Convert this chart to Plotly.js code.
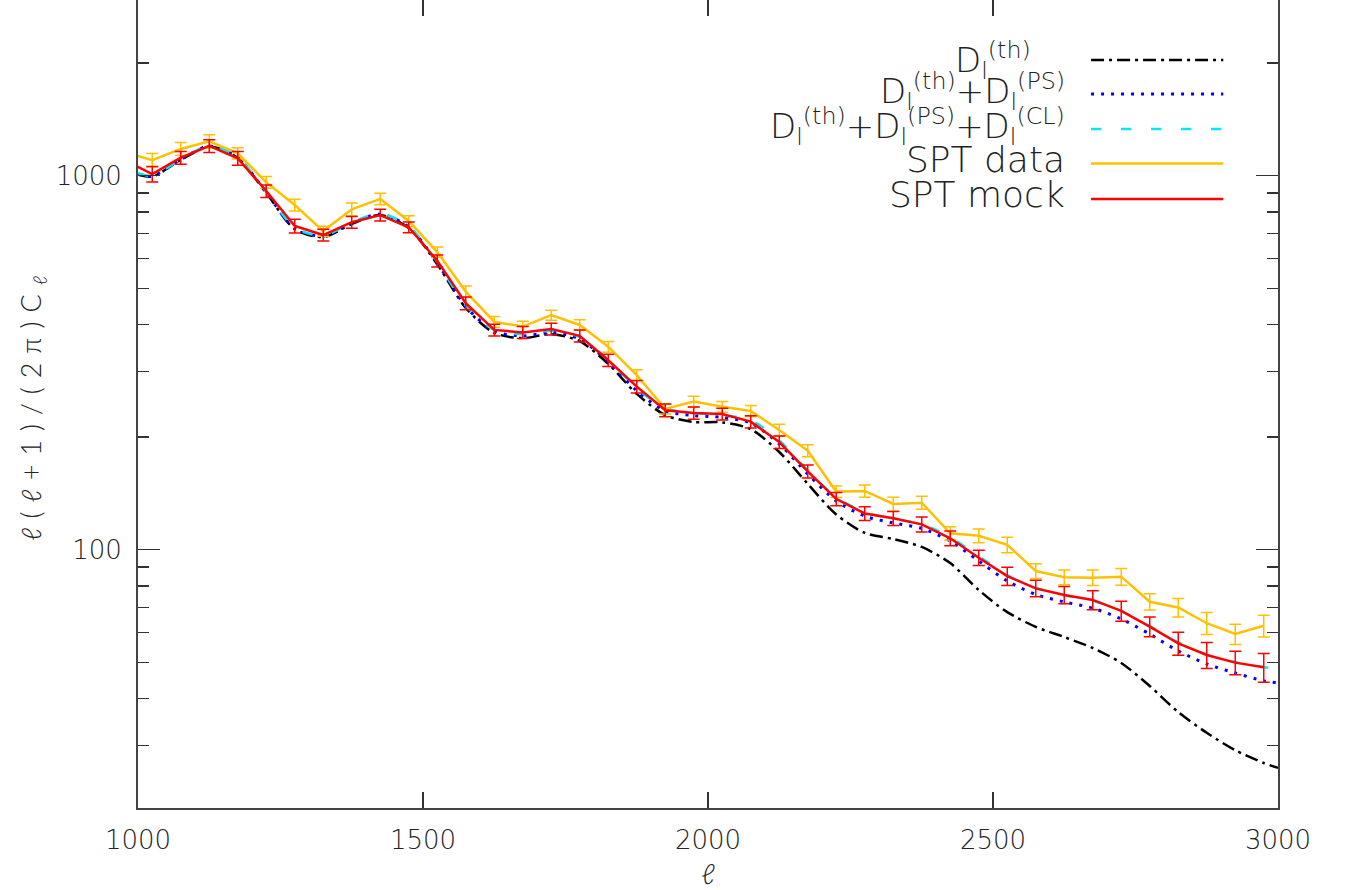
<!DOCTYPE html>
<html>
<head>
<meta charset="utf-8">
<script src="https://cdn.plot.ly/plotly-3.0.1.min.js"></script>
<style>
html,body{margin:0;padding:0;background:#fff;}
#chart{width:1346px;height:890px;}
.ytitle{letter-spacing:9px;}
</style>
</head>
<body>
<div id="chart"></div>
<script>
// Multipoles of the SPT band powers (bin centres; 975 point only sets the line at the left edge)
var binEll = [975,1025,1075,1125,1175,1225,1275,1325,1375,1425,1475,1525,1575,1625,1675,1725,1775,1825,1875,1925,1975,
              2025,2075,2125,2175,2225,2275,2325,2375,2425,2475,2525,2575,2625,2675,2725,2775,2825,2875,2925,2975];
var sptData = [1157,1101,1179,1236,1148,960,835,711,813,867,757,625,490,407,395,424,399,349,293,238,249,
               241,235,209,184,143,143.6,132.5,133.6,110.6,109,103,87.7,84.4,84.2,84.7,72.6,70.1,63.6,59.5,62.6];
var sptDataErr = [0,46,47,50,40,35,30,22,32,31,25,20,17,13.5,13,13,13,11.5,10,7.4,8.3,
                  8,8,7.6,6.7,5.1,5.4,5.7,5.3,4.5,4.6,4.9,4.0,3.8,4.0,4.4,3.6,4.0,4.3,3.7,4.2];
var sptMock = [1105,1010,1117,1201,1113,910,734,694,751,785,728,592,456,387,381,389,373,321,273,236,232,
               230.6,220,194,162,136.7,125,121.3,116.9,107.3,95.2,85.0,78.8,75.7,73.4,68.6,62.3,56.2,52.3,49.9,48.5];
var sptMockErr = [0,48,44,47,47,35,31,25,27,28,24,22,18,14,14,14,13.5,12,10.6,9.3,8.7,
                  8.4,8.3,7.5,6.4,5.6,5.3,5.3,5.4,4.9,4.5,4.8,4.0,4.0,4.3,4.2,3.8,4.0,4.2,3.6,4.3];

// Model curves
var thEll = [1000,1025,1075,1125,1175,1225,1275,1325,1375,1425,1475,1525,1575,1625,1675,1725,1775,1825,1875,1925,1975,
             2025,2075,2125,2175,2225,2275,2325,2375,2425,2475,2525,2575,2625,2675,2725,2775,2825,2875,2925,2975,3000];
var dTh = [1008,995,1101,1197,1115,899,720,686,743,785,725,580,443,380,368,377,361,314,261,229,219.6,
           219,210,182.5,150,124.2,110.9,106.8,101.7,92.1,78.0,68.1,62.2,58.4,54.6,49.8,43.2,36.8,32.4,29.1,26.9,26.1];
var dThPS = [1010,998,1104,1200,1118,902,723,690,747,789,729,585,447,384,373,381,366,318,266,235,228.5,
             225.7,218.2,191.7,159.4,135,123,117.9,114.0,105.5,93.3,82.5,75.9,72.5,69.8,65.3,59.5,53.6,49.5,46.8,44.6,44.1];
var dThPSCL = [1015,1000,1106,1202,1120,905,726,692,750,792,732,588,450,387,377,385,370,322,270,239,232,
               229,222,196,163,138,126,121,117,108,96,85.5,79,75.5,73,68.5,62.5,56.5,52.5,50,48.5,48];

var legendLabels = [
  "D<sub>l</sub><sup>(th)</sup>",
  "D<sub>l</sub><sup>(th)</sup>+D<sub>l</sub><sup>(PS)</sup>",
  "D<sub>l</sub><sup>(th)</sup>+D<sub>l</sub><sup>(PS)</sup>+D<sub>l</sub><sup>(CL)</sup>",
  "SPT data",
  "SPT mock"
];
var xTicks = [1000,1500,2000,2500,3000];
var yTicks = [100,1000];
var yMinorTicks = [20,30,40,50,60,70,80,90,200,300,400,500,600,700,800,900,2000];

var FONT = "'DejaVu Sans', Lato, sans-serif";
var TITLEFONT = "Lato, 'DejaVu Sans', sans-serif";
var colors = ['#000000','#0000ff','#00e8ff','#ffc000','#ff0000'];
var dashes = ['13px,5px,3px,5px','3px,7px','10px,20px','solid','solid'];

var traces = [
  {x: thEll, y: dTh, mode:'lines', line:{color:colors[0], width:2.5, dash:dashes[0], shape:'spline', smoothing:0.8}},
  {x: thEll, y: dThPS, mode:'lines', line:{color:colors[1], width:3, dash:dashes[1], shape:'spline', smoothing:0.8}},
  {x: thEll, y: dThPSCL, mode:'lines', line:{color:colors[2], width:2.5, dash:dashes[2], shape:'spline', smoothing:0.8}},
  {x: binEll, y: sptData, mode:'lines', line:{color:colors[3], width:2.5},
   error_y:{type:'data', array:sptDataErr, color:'#ffc000', thickness:1.5, width:6}},
  {x: binEll, y: sptMock, mode:'lines', line:{color:colors[4], width:2.5},
   error_y:{type:'data', array:sptMockErr, color:'#ff0000', thickness:1.5, width:6}}
];

// custom legend: right-aligned labels, line samples on the right
var legLineY = [0.9257, 0.8837, 0.8403, 0.7975, 0.7537];
var legTextY = [0.9247, 0.8867, 0.8433, 0.802, 0.7587];
var legTextX = [0.785, 0.815, 0.815, 0.815, 0.815];
var legSize = [34, 34, 34, 36, 36];
var annotations = [];
var shapes = [];
for (var i = 0; i < legendLabels.length; i++) {
  annotations.push({xref:'paper', yref:'paper', x:legTextX[i], y:legTextY[i], xanchor:'right', yanchor:'middle',
    text:legendLabels[i], showarrow:false, font:{family:FONT, size:legSize[i], color:'#222', weight:200}});
  shapes.push({type:'line', xref:'paper', yref:'paper', x0:0.836, x1:0.952, y0:legLineY[i], y1:legLineY[i],
    line:{color:colors[i], width:(i===1?3:2.5), dash:dashes[i]}});
}

var axisCommon = {
  showgrid:false, zeroline:false, showline:true, linecolor:'#444', linewidth:2,
  mirror:'allticks', ticks:'inside', tickcolor:'#333', tickwidth:1.5,
  tickfont:{family:FONT, size:26, color:'#222', weight:200}
};

var layout = {
  width:1346, height:890,
  margin:{l:138, r:68, t:0, b:82},
  paper_bgcolor:'#fff', plot_bgcolor:'#fff',
  showlegend:false,
  xaxis: Object.assign({}, axisCommon, {
    range:[1000,3000], tickmode:'array', tickvals:xTicks, ticklen:16, ticklabelstandoff:8,
    title:{text:'ℓ', font:{family:TITLEFONT, size:28, color:'#222', style:'italic', weight:300}, standoff:19}
  }),
  yaxis: Object.assign({}, axisCommon, {
    type:'log', range:[1.3094, 3.4698], tickmode:'array', tickvals:yTicks, ticktext:['100','1000'],
    ticklen:22, ticklabelstandoff:9,
    minor:{tickmode:'array', tickvals:yMinorTicks, ticklen:11, tickcolor:'#333', tickwidth:1.5, ticks:'inside'},
    title:{text:'ℓ(ℓ+1)/(2π)C<sub>ℓ</sub>', font:{family:TITLEFONT, size:27, color:'#222', weight:300}, standoff:6}
  }),
  annotations: annotations,
  shapes: shapes
};

Plotly.newPlot('chart', traces, layout, {displayModeBar:false, staticPlot:true});
</script>
</body>
</html>
